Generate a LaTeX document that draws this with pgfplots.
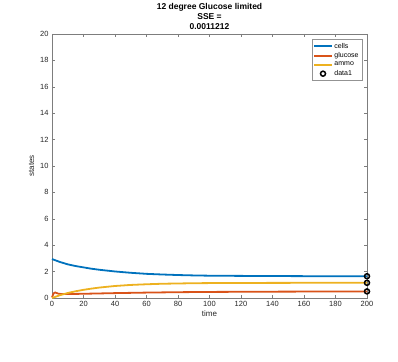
\documentclass[border=0pt]{standalone}
\usepackage{pgfplots}
\pgfplotsset{compat=1.18}
\usepackage{fontspec}
\setmainfont{Liberation Sans}
\definecolor{mblue}{rgb}{0,0.447,0.741}
\definecolor{mred}{rgb}{0.85,0.325,0.098}
\definecolor{myel}{rgb}{0.929,0.694,0.125}
\definecolor{axgray}{rgb}{0.15,0.15,0.15}
\begin{document}
\begin{tikzpicture}
\path[use as bounding box] (-52pt,-63pt) rectangle (346pt,298pt);
\begin{axis}[
  at={(0,0)}, anchor=south west,
  scale only axis, width=315pt, height=264pt,
  xmin=0, xmax=200, ymin=0, ymax=20,
  xtick={0,20,...,200}, ytick={0,2,...,20},
  tick align=inside, tick pos=both,
  axis line style={draw=axgray!60, line width=0.5pt},
  every tick/.style={axgray!60, line width=0.5pt},
  major tick length=3pt,
  tick label style={font=\fontsize{7.5}{8}\selectfont, text=axgray},
  /pgf/number format/assume math mode=true,
  xlabel={time}, ylabel={states},
  label style={font=\fontsize{8}{9}\selectfont, text=axgray},
  xlabel style={yshift=3pt},
  ylabel style={yshift=-1pt},
  title={\textbf{12 degree Glucose limited}\\\textbf{SSE =}\\\textbf{0.0011212}},
  title style={font=\fontsize{8.5}{10}\selectfont, align=center, yshift=-5pt},
  legend style={at={(0.985,0.98)}, anchor=north east, font=\fontsize{7}{7.5}\selectfont, draw=axgray!50, row sep=-1pt, inner sep=1.5pt},
  legend image post style={},
  legend cell align=left,
  clip=false,
]
\addplot[mblue, line width=1.8pt] coordinates {
(0,2.95)(5,2.73)(10,2.55)(15,2.42)(20,2.32)(25,2.22)(30,2.14)(40,2.01)(50,1.91)(60,1.83)(70,1.78)(80,1.74)(90,1.71)(100,1.69)(120,1.675)(140,1.665)(160,1.655)(180,1.65)(200,1.65)};
\addlegendentry{cells}
\addplot[mred, line width=1.8pt] coordinates {
(0,0.05)(1,0.35)(2,0.42)(4,0.33)(6,0.30)(10,0.30)(20,0.32)(40,0.37)(60,0.41)(80,0.44)(100,0.46)(140,0.48)(200,0.50)};
\addlegendentry{glucose}
\addplot[myel, line width=1.8pt] coordinates {
(0,0)(5,0.21)(10,0.38)(15,0.51)(20,0.62)(25,0.71)(30,0.79)(40,0.91)(50,0.99)(60,1.04)(70,1.08)(80,1.10)(90,1.12)(100,1.13)(120,1.14)(140,1.145)(160,1.15)(180,1.15)(200,1.15)};
\addlegendentry{ammo}
\addplot[only marks, mark=o, mark size=2.5pt, line width=1.5pt, black] coordinates {
(200,1.65)(200,1.15)(200,0.50)};
\addlegendentry{data1}
\end{axis}
\end{tikzpicture}
\end{document}
